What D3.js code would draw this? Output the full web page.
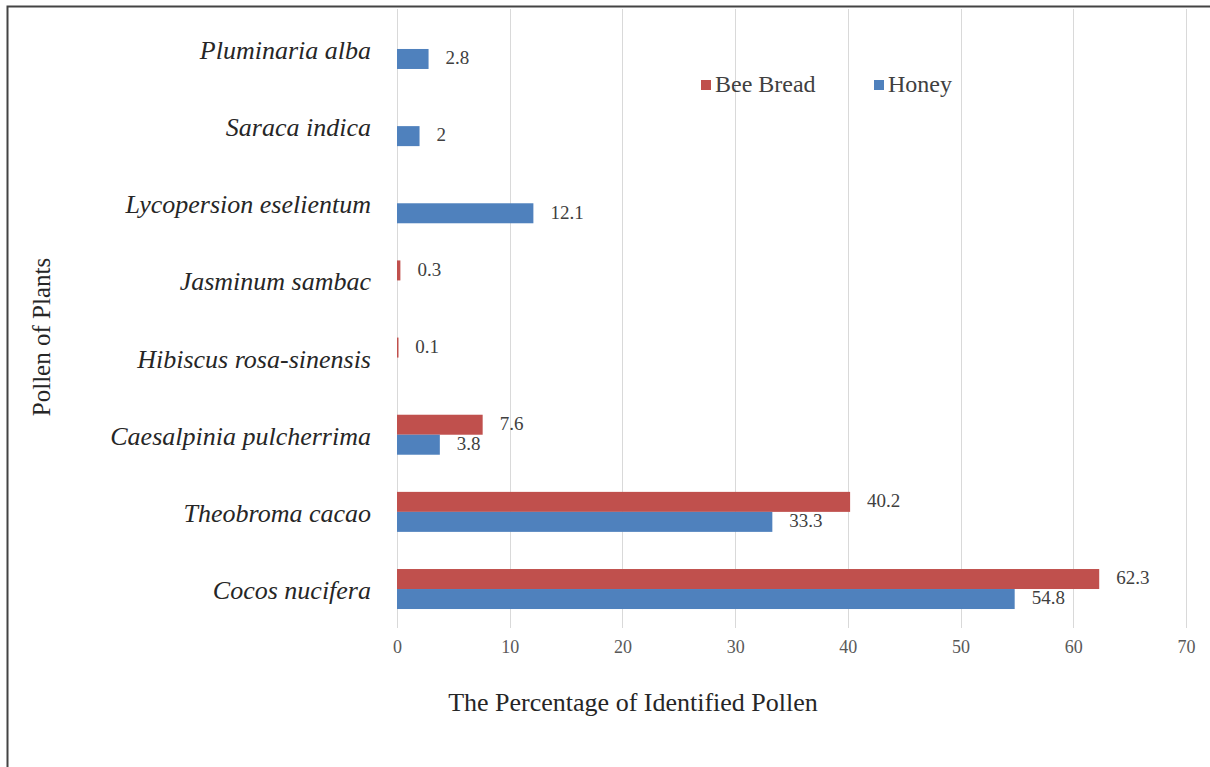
<!DOCTYPE html>
<html>
<head>
<meta charset="utf-8">
<script src="https://cdn.jsdelivr.net/npm/d3@7"></script>
<style>
  body { margin: 0; background: #fff; }
  text { font-family: "Liberation Serif", "Times New Roman", serif; }
</style>
</head>
<body>
<div id="grafico"></div>
<script>
// datos del grafico (de abajo hacia arriba)
var plantas = ["Cocos nucifera", "Theobroma cacao", "Caesalpinia pulcherrima",
  "Hibiscus rosa-sinensis", "Jasminum sambac", "Lycopersion eselientum",
  "Saraca indica", "Pluminaria alba"];
var beeBread = [62.3, 40.2, 7.6, 0.1, 0.3, null, null, null];
var honey = [54.8, 33.3, 3.8, null, null, 12.1, 2, 2.8];
var ticksX = [0, 10, 20, 30, 40, 50, 60, 70];
var series = ["Bee Bread", "Honey"];

var width = 1210, height = 767;
var rojo = "#c0504d", azul = "#4f81bd";

var svg = d3.select("#grafico")
  .append("svg")
  .attr("width", width)
  .attr("height", height);

// marco
svg.append("path")
  .attr("d", "M7.5,767 V6.5 H1210")
  .attr("fill", "none")
  .attr("stroke", "#444")
  .attr("stroke-width", 2);

var x = d3.scaleLinear().domain([0, 70]).range([397, 1186]);
var y = d3.scaleBand().domain(plantas).range([627.6, 10.4]);
var barH = 20;

// grid vertical
svg.append("g")
  .selectAll("line")
  .data(ticksX)
  .join("line")
  .attr("x1", d => Math.round(x(d)) + 0.5)
  .attr("x2", d => Math.round(x(d)) + 0.5)
  .attr("y1", 9)
  .attr("y2", 628)
  .attr("stroke", "#d9d9d9")
  .attr("stroke-width", 1);

// eje x (solo etiquetas)
var ejeX = svg.append("g")
  .attr("transform", "translate(0,628)")
  .call(d3.axisBottom(x).tickValues(ticksX).tickSize(0).tickPadding(12));
ejeX.select(".domain").remove();
ejeX.selectAll("text")
  .style("font-family", "'Liberation Serif', serif")
  .style("font-size", "18px")
  .attr("fill", "#595959");

// etiquetas de categorias
svg.append("g")
  .selectAll("text")
  .data(plantas)
  .join("text")
  .attr("x", 371)
  .attr("y", d => y(d) + y.bandwidth() / 2 + 4)
  .attr("text-anchor", "end")
  .attr("dominant-baseline", "middle")
  .style("font-size", "26px")
  .style("font-style", "italic")
  .attr("fill", "#262626")
  .text(d => d);

// barras
function pintarSerie(valores, color, offset) {
  var datos = plantas.map((p, i) => ({ planta: p, valor: valores[i] }))
    .filter(d => d.valor != null);
  svg.append("g")
    .selectAll("rect")
    .data(datos)
    .join("rect")
    .attr("x", x(0))
    .attr("y", d => y(d.planta) + y.bandwidth() / 2 + offset)
    .attr("width", d => Math.max(x(d.valor) - x(0), 1.5))
    .attr("height", barH)
    .attr("fill", color);
  svg.append("g")
    .selectAll("text")
    .data(datos)
    .join("text")
    .attr("x", d => x(d.valor) + 17)
    .attr("y", d => y(d.planta) + y.bandwidth() / 2 + offset + barH / 2 + 1)
    .attr("dominant-baseline", "middle")
    .style("font-size", "19px")
    .attr("fill", "#404040")
    .text(d => d.valor);
}
pintarSerie(beeBread, rojo, -barH);
pintarSerie(honey, azul, 0);

// leyenda
var leyenda = svg.append("g");
var posLeyenda = [701, 874];
series.forEach(function (s, i) {
  leyenda.append("rect")
    .attr("x", posLeyenda[i])
    .attr("y", 80)
    .attr("width", 10)
    .attr("height", 10)
    .attr("fill", i === 0 ? rojo : azul);
  leyenda.append("text")
    .attr("x", posLeyenda[i] + 14)
    .attr("y", 86)
    .attr("dominant-baseline", "middle")
    .style("font-size", "24px")
    .attr("fill", "#404040")
    .text(s);
});

// titulos de ejes
svg.append("text")
  .attr("x", 633)
  .attr("y", 705)
  .attr("text-anchor", "middle")
  .attr("dominant-baseline", "middle")
  .style("font-size", "26px")
  .attr("fill", "#262626")
  .text("The Percentage of Identified Pollen");

svg.append("text")
  .attr("transform", "translate(44,337) rotate(-90)")
  .attr("text-anchor", "middle")
  .attr("dominant-baseline", "middle")
  .style("font-size", "25px")
  .attr("fill", "#262626")
  .text("Pollen of Plants");
</script>
</body>
</html>
